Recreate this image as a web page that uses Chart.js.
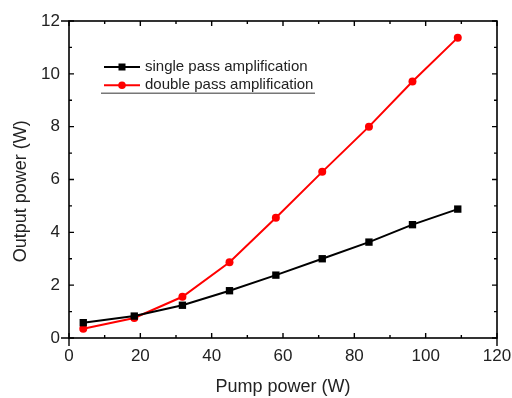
<!DOCTYPE html>
<html>
<head>
<meta charset="utf-8">
<script src="https://cdn.jsdelivr.net/npm/chart.js@4.4.1/dist/chart.umd.min.js"></script>
<style>
html,body{margin:0;padding:0;background:#fff;}
#wrap{width:512px;height:398px;}
</style>
</head>
<body>
<div id="wrap"><canvas id="c" width="512" height="398"></canvas></div>
<script>
const pumpPower = [4, 18.3, 31.8, 45, 58, 71, 84.1, 96.3, 109];
const singlePass = [0.58, 0.83, 1.24, 1.79, 2.38, 3.0, 3.63, 4.29, 4.88];
const doublePass = [0.35, 0.76, 1.56, 2.87, 4.55, 6.29, 8.0, 9.71, 11.37];
const xTicks = [0, 20, 40, 60, 80, 100, 120];
const yTicks = [0, 2, 4, 6, 8, 10, 12];
const seriesNames = ['single pass amplification', 'double pass amplification'];
const xTitle = 'Pump power (W)';
const yTitle = 'Output power (W)';

const FONT = "'Liberation Sans', Arial, sans-serif";

const framePlugin = {
  id: 'frame',
  afterDatasetsDraw(chart) {
    const {ctx, chartArea: a, scales: {x, y}} = chart;
    ctx.save();
    ctx.strokeStyle = '#000';
    ctx.lineWidth = 1.6;
    ctx.strokeRect(a.left, a.top, a.right - a.left, a.bottom - a.top);
    ctx.lineWidth = 1.4;
    ctx.beginPath();
    for (let v = 0; v <= 120; v += 10) {
      const len = (v % 20 === 0) ? 5 : 3;
      const px = x.getPixelForValue(v);
      ctx.moveTo(px, a.bottom); ctx.lineTo(px, a.bottom - len);
      ctx.moveTo(px, a.top); ctx.lineTo(px, a.top + len);
    }
    for (let v = 0; v <= 12; v += 1) {
      const len = (v % 2 === 0) ? 5 : 3;
      const py = y.getPixelForValue(v);
      ctx.moveTo(a.left, py); ctx.lineTo(a.left + len, py);
      ctx.moveTo(a.right, py); ctx.lineTo(a.right - len, py);
    }
    // outward end ticks
    [0, 120].forEach(v => {
      const px = x.getPixelForValue(v);
      ctx.moveTo(px, a.bottom); ctx.lineTo(px, a.bottom + 8);
    });
    [0, 12].forEach(v => {
      const py = y.getPixelForValue(v);
      ctx.moveTo(a.left, py); ctx.lineTo(a.left - 8, py);
    });
    ctx.stroke();

    // y title
    ctx.fillStyle = '#222';
    ctx.font = '18px ' + FONT;
    ctx.textAlign = 'center';
    ctx.textBaseline = 'middle';
    ctx.translate(21.5, a.top + (a.bottom - a.top) * 0.537);
    ctx.rotate(-Math.PI / 2);
    ctx.fillText(yTitle, 0, 0);
    ctx.restore();

    // legend
    ctx.save();
    const lx = a.left + 35, ly = a.top + 46, rowH = 18.3;
    chart.data.datasets.forEach((ds, i) => {
      const yy = ly + i * rowH;
      ctx.strokeStyle = ds.borderColor;
      ctx.lineWidth = 2;
      ctx.beginPath();
      ctx.moveTo(lx, yy); ctx.lineTo(lx + 36, yy);
      ctx.stroke();
      ctx.fillStyle = ds.pointBackgroundColor;
      if (ds.pointStyle === 'rect') {
        ctx.fillRect(lx + 18 - 3.5, yy - 3.5, 7, 7);
      } else {
        ctx.beginPath(); ctx.arc(lx + 18, yy, 3.8, 0, Math.PI * 2); ctx.fill();
      }
      ctx.fillStyle = '#222';
      ctx.font = '15px ' + FONT;
      ctx.textAlign = 'left';
      ctx.textBaseline = 'middle';
      ctx.fillText(ds.label, lx + 41, yy);
    });
    ctx.strokeStyle = '#777';
    ctx.lineWidth = 1.5;
    ctx.beginPath();
    ctx.moveTo(lx - 3, ly + rowH + 8); ctx.lineTo(lx + 211, ly + rowH + 8);
    ctx.stroke();
    ctx.restore();
  }
};

new Chart(document.getElementById('c'), {
  type: 'line',
  data: {
    datasets: [
      {
        label: seriesNames[0],
        data: pumpPower.map((p, i) => ({x: p, y: singlePass[i]})),
        borderColor: '#000', backgroundColor: '#000',
        pointBackgroundColor: '#000', pointBorderColor: '#000',
        pointStyle: 'rect', pointRadius: 5.2, pointBorderWidth: 0,
        borderWidth: 2, tension: 0
      },
      {
        label: seriesNames[1],
        data: pumpPower.map((p, i) => ({x: p, y: doublePass[i]})),
        borderColor: '#ff0000', backgroundColor: '#ff0000',
        pointBackgroundColor: '#ff0000', pointBorderColor: '#ff0000',
        pointStyle: 'circle', pointRadius: 4, pointBorderWidth: 0,
        borderWidth: 2, tension: 0
      }
    ]
  },
  options: {
    responsive: false,
    animation: false,
    devicePixelRatio: 1,
    layout: {padding: {top: 21, right: 15, left: 0, bottom: 0}},
    plugins: {legend: {display: false}, tooltip: {enabled: false}},
    scales: {
      x: {
        type: 'linear', min: 0, max: 120,
        afterBuildTicks(s) { s.ticks = xTicks.map(v => ({value: v})); },
        afterFit(s) { s.height = 60; s.paddingLeft = 0; s.paddingRight = 0; },
        grid: {display: false, drawTicks: false},
        border: {display: false},
        ticks: {color: '#222', font: {family: FONT, size: 17}, padding: 8, maxRotation: 0},
        title: {display: true, text: xTitle, color: '#222', font: {family: FONT, size: 18}, padding: {top: 5, bottom: 0}}
      },
      y: {
        type: 'linear', min: 0, max: 12,
        afterBuildTicks(s) { s.ticks = yTicks.map(v => ({value: v})); },
        afterFit(s) { s.width = 69; s.paddingTop = 0; s.paddingBottom = 0; },
        grid: {display: false, drawTicks: false},
        border: {display: false},
        ticks: {color: '#222', font: {family: FONT, size: 17}, padding: 9}
      }
    }
  },
  plugins: [framePlugin]
});
</script>
</body>
</html>
